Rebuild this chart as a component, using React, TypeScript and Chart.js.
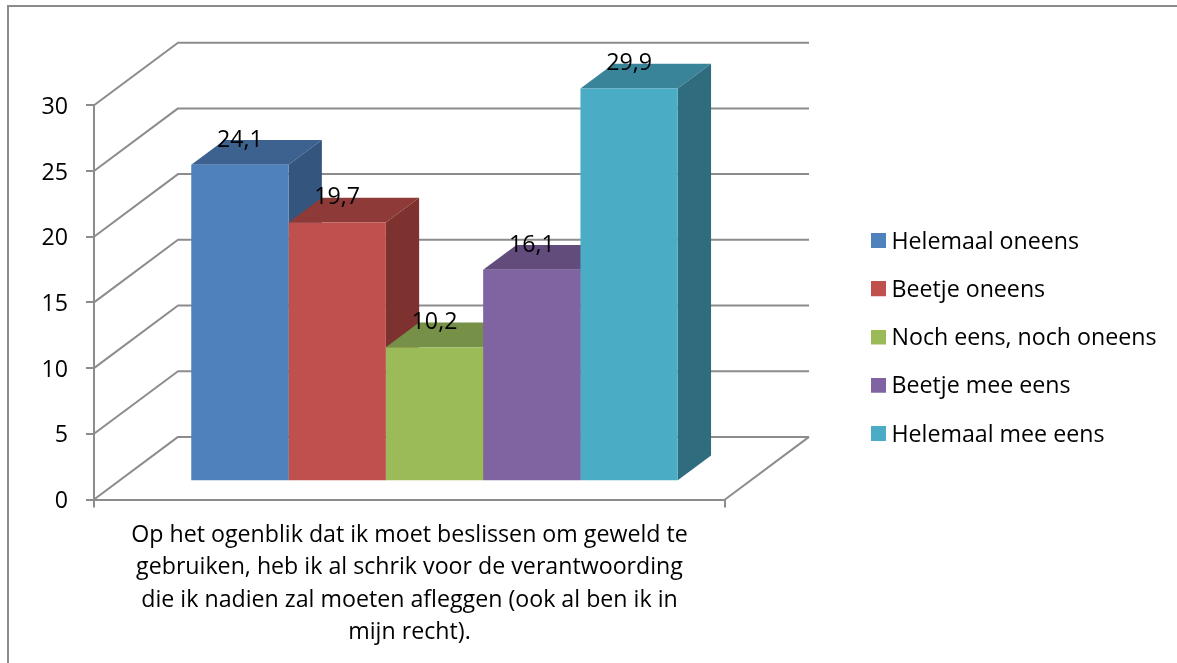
import React, { useEffect, useRef } from "react";
import { Chart, registerables } from "chart.js";

Chart.register(...registerables);

const categoryLines = [
  "Op het ogenblik dat ik moet beslissen om geweld te",
  "gebruiken, heb ik al schrik voor de verantwoording",
  "die ik nadien zal moeten afleggen (ook al ben ik in",
  "mijn recht).",
];
const seriesNames = [
  "Helemaal oneens",
  "Beetje oneens",
  "Noch eens, noch oneens",
  "Beetje mee eens",
  "Helemaal mee eens",
];
const seriesValues = [24.1, 19.7, 10.2, 16.1, 29.9];
const frontColors = ["#4F81BD", "#C0504D", "#9BBB59", "#8064A2", "#4BACC6"];
const topColors = ["#3D6290", "#8E3A38", "#769048", "#614C7C", "#3A849A"];
const sideColors = ["#33557E", "#7D3230", "#677E3C", "#54426C", "#2F6C7E"];

const FONT = "'Open Sans', sans-serif";
const FONT_SIZE = 23.2;
const LINE = "#8C8C8C";
const WALL = { dx: 84, dy: -62.6 };
const FLOOR = { dx: 25, dy: -18.2 };
const DEPTH = { dx: 33.3, dy: -24.7 };

function swatch(color: string) {
  const c = document.createElement("canvas");
  c.width = 15;
  c.height = 18;
  const g = c.getContext("2d")!;
  g.fillStyle = color;
  g.fillRect(0, 0, 15, 15);
  return c;
}

const frame3d = {
  id: "frame3d",
  beforeDraw(chart: any) {
    const { ctx, width, height } = chart;
    ctx.save();
    ctx.fillStyle = "#fff";
    ctx.fillRect(0, 0, width, height);
    ctx.strokeStyle = LINE;
    ctx.lineWidth = 2;
    ctx.beginPath();
    ctx.moveTo(8, height + 2);
    ctx.lineTo(8, 6);
    ctx.lineTo(width + 2, 6);
    ctx.stroke();
    ctx.restore();
  },
  afterLayout(chart: any) {
    const l = chart.legend;
    const p = l.options.labels.padding;
    const y0 = 230.4;
    const slop = 20;
    l.left = 876.9 - p;
    l.right = 1177;
    l.top = y0 - slop - p;
    l.bottom = y0 + slop + l.columnSizes[0].height;
  },
  beforeDatasetsDraw(chart: any) {
    const { ctx, scales, chartArea } = chart;
    const y = scales.y;
    const { left, right, bottom } = chartArea;
    ctx.save();
    ctx.strokeStyle = LINE;
    ctx.lineWidth = 2;
    ctx.lineJoin = "round";
    y.ticks.forEach((t: any) => {
      const py = y.getPixelForValue(t.value);
      ctx.beginPath();
      ctx.moveTo(left, py);
      ctx.lineTo(left + WALL.dx, py + WALL.dy);
      ctx.lineTo(right + WALL.dx, py + WALL.dy);
      ctx.stroke();
    });
    ctx.beginPath();
    ctx.moveTo(right, bottom);
    ctx.lineTo(right + WALL.dx, bottom + WALL.dy);
    ctx.stroke();
    ctx.restore();

    ctx.save();
    ctx.translate(FLOOR.dx, FLOOR.dy);
    chart.data.datasets.forEach((_: any, i: number) => {
      const b = chart.getDatasetMeta(i).data[0];
      const x0 = b.x - b.width / 2;
      const x1 = b.x + b.width / 2;
      ctx.fillStyle = topColors[i];
      ctx.beginPath();
      ctx.moveTo(x0, b.y);
      ctx.lineTo(x1, b.y);
      ctx.lineTo(x1 + DEPTH.dx, b.y + DEPTH.dy);
      ctx.lineTo(x0 + DEPTH.dx, b.y + DEPTH.dy);
      ctx.closePath();
      ctx.fill();
      ctx.fillStyle = sideColors[i];
      ctx.beginPath();
      ctx.moveTo(x1, b.y);
      ctx.lineTo(x1 + DEPTH.dx, b.y + DEPTH.dy);
      ctx.lineTo(x1 + DEPTH.dx, b.base + DEPTH.dy);
      ctx.lineTo(x1, b.base);
      ctx.closePath();
      ctx.fill();
    });
    ctx.restore();
    ctx.save();
    ctx.translate(FLOOR.dx, FLOOR.dy);
  },
  afterDatasetsDraw(chart: any) {
    const { ctx } = chart;
    ctx.restore();
    ctx.save();
    ctx.translate(FLOOR.dx, FLOOR.dy);
    ctx.fillStyle = "#000";
    ctx.font = `${FONT_SIZE}px ${FONT}`;
    ctx.textAlign = "center";
    ctx.textBaseline = "alphabetic";
    chart.data.datasets.forEach((d: any, i: number) => {
      const b = chart.getDatasetMeta(i).data[0];
      ctx.fillText(String(d.data[0]).replace(".", ","), b.x, b.y - 18);
    });
    ctx.restore();
  },
};

export default function App() {
  const ref = useRef<HTMLCanvasElement>(null);
  useEffect(() => {
    const swatches = frontColors.map(swatch);
    const chart = new Chart(ref.current!, {
      type: "bar",
      data: {
        labels: [categoryLines],
        datasets: seriesNames.map((name, i) => ({
          label: name,
          data: [seriesValues[i]],
          backgroundColor: frontColors[i],
          borderWidth: 0,
          clip: false,
          barPercentage: 1,
          categoryPercentage: 0.771,
        })),
      },
      options: {
        responsive: false,
        animation: false,
        layout: { padding: { top: 105.3, right: 210.33, left: 0, bottom: 0 } },
        plugins: {
          tooltip: { enabled: false },
          title: { display: false },
          legend: {
            position: "right",
            labels: {
              color: "#000",
              font: { family: FONT, size: FONT_SIZE },
              usePointStyle: true,
              boxWidth: 3,
              padding: 25.05,
              generateLabels: (c: any) =>
                Chart.defaults.plugins.legend.labels
                  .generateLabels(c)
                  .map((it: any, i: number) => ({ ...it, pointStyle: swatches[i] })),
            },
          },
        },
        scales: {
          x: {
            afterFit: (s: any) => {
              s.height = 163.5;
            },
            border: { color: LINE, width: 2 },
            grid: { drawOnChartArea: false, color: LINE, lineWidth: 2, tickLength: 8 },
            ticks: {
              color: "#000",
              font: { family: FONT, size: FONT_SIZE, lineHeight: 1.39 },
              padding: 12,
              maxRotation: 0,
              minRotation: 0,
              autoSkip: false,
            },
          },
          y: {
            min: 0,
            max: 30,
            afterFit: (s: any) => {
              s.width = 94;
            },
            border: { color: LINE, width: 2 },
            grid: { drawOnChartArea: false, color: LINE, lineWidth: 2, tickLength: 8 },
            ticks: {
              stepSize: 5,
              color: "#000",
              font: { family: FONT, size: FONT_SIZE },
              padding: 18,
              labelOffset: 2,
            },
          },
        },
      },
      plugins: [frame3d],
    } as any);
    return () => chart.destroy();
  }, []);
  return (
    <div style={{ position: "absolute", left: 0, top: 0, width: 1177, height: 663 }}>
      <canvas ref={ref} width={1177} height={663} style={{ display: "block" }} />
    </div>
  );
}
